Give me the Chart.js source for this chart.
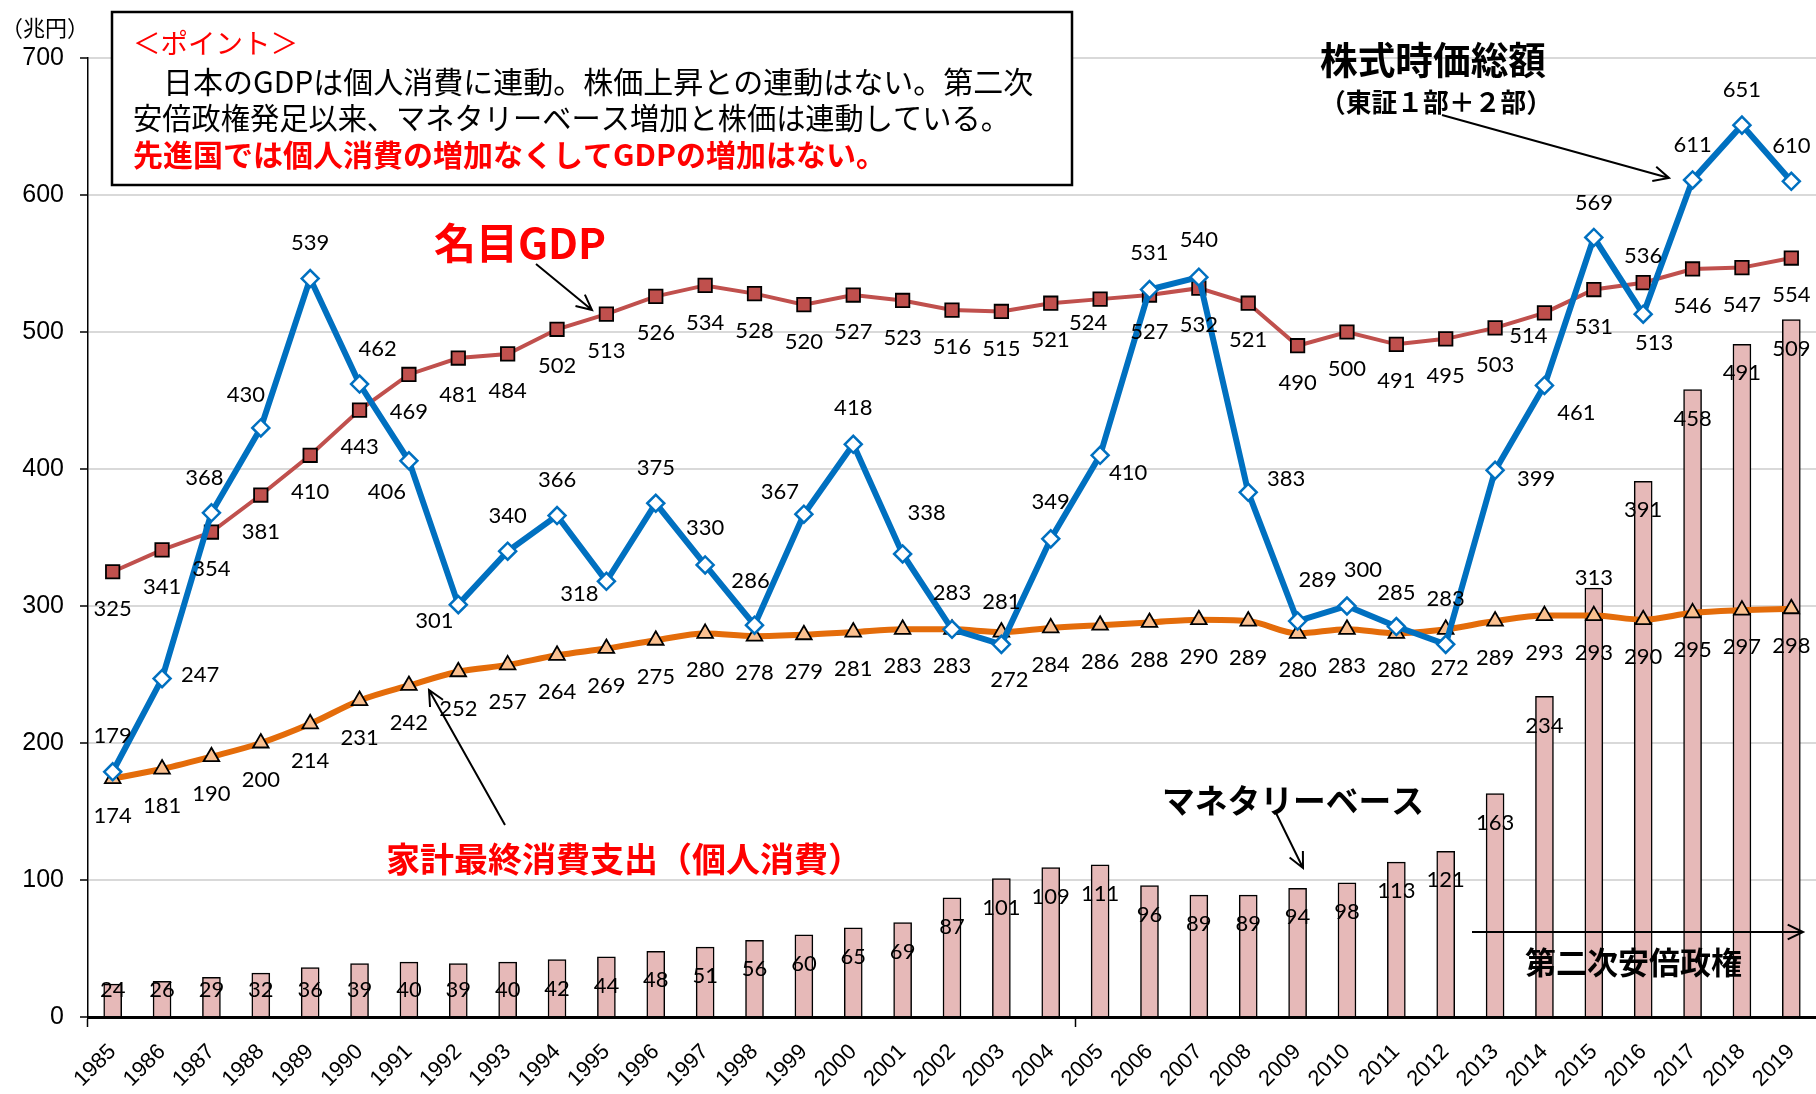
<!DOCTYPE html>
<html lang="ja">
<head>
<meta charset="utf-8">
<title>名目GDP・個人消費・株式時価総額・マネタリーベース</title>
<script src="https://cdn.jsdelivr.net/npm/chart.js@4.4.1/dist/chart.umd.min.js"></script>
<style>
  html, body { margin: 0; padding: 0; background: #fff; overflow: hidden; }
  canvas { display: block; }
</style>
</head>
<body>
<canvas id="chart" width="1816" height="1094"></canvas>
<script>
// データ（兆円）
const years = ['1985','1986','1987','1988','1989','1990','1991','1992','1993','1994',
  '1995','1996','1997','1998','1999','2000','2001','2002','2003','2004',
  '2005','2006','2007','2008','2009','2010','2011','2012','2013','2014',
  '2015','2016','2017','2018','2019'];

const nominalGdp = [325,341,354,381,410,443,469,481,484,502,
  513,526,534,528,520,527,523,516,515,521,
  524,527,532,521,490,500,491,495,503,514,
  531,536,546,547,554];

const householdConsumption = [174,181,190,200,214,231,242,252,257,264,
  269,275,280,278,279,281,283,283,281,284,
  286,288,290,289,280,283,280,283,289,293,
  293,290,295,297,298];

const marketCap = [179,247,368,430,539,462,406,301,340,366,
  318,375,330,286,367,418,338,283,272,349,
  410,531,540,383,289,300,285,272,399,461,
  569,513,611,651,610];

const monetaryBase = [24,26,29,32,36,39,40,39,40,42,
  44,48,51,56,60,65,69,87,101,109,
  111,96,89,89,94,98,113,121,163,234,
  313,391,458,491,509];

const yTicks = [0,100,200,300,400,500,600,700];

// ラベル位置（点からのずれ, px）
const marketCapLabelOffset = [[0,-36],[38,-4],[-7,-35],[-15,-33],[0,-36],[18,-35],[-22,31],[-24,16],[0,-35],[0,-36],
  [-27,13],[0,-35],[0,-37],[-4,-44],[-24,-22],[0,-36],[24,-41],[0,-36],[8,36],[0,-37],
  [28,18],[0,-37],[0,-37],[38,-13],[20,-41],[16,-36],[0,-34],[4,24],[41,9],[32,27],
  [0,-35],[11,29],[0,-35],[0,-35],[0,-35]];
const consumptionLabelAbove = { 18: true, 27: true };
const gdpLabelOffset = { 20: [-12, 24], 29: [-16, 23], 31: [0, -27] };
const barLabelAbove = { 30: true };

const valueLabels = {
  id: 'valueLabels',
  afterDatasetsDraw(chart) {
    const ctx = chart.ctx;
    const base = chart.scales.y.getPixelForValue(0);
    ctx.save();
    ctx.font = '22px Lato';
    ctx.fillStyle = '#000';
    ctx.textAlign = 'center';
    ctx.textBaseline = 'middle';

    chart.getDatasetMeta(0).data.forEach((bar, i) => {
      let y = Math.min(bar.y + 29, base - 27);
      if (barLabelAbove[i]) y = bar.y - 10;
      ctx.fillText(monetaryBase[i], bar.x, y);
    });
    chart.getDatasetMeta(1).data.forEach((pt, i) => {
      const off = gdpLabelOffset[i] || [0, 37];
      ctx.fillText(nominalGdp[i], pt.x + off[0], pt.y + off[1]);
    });
    chart.getDatasetMeta(2).data.forEach((pt, i) => {
      const dy = consumptionLabelAbove[i] ? -30 : 37;
      ctx.fillText(householdConsumption[i], pt.x, pt.y + dy);
    });
    chart.getDatasetMeta(3).data.forEach((pt, i) => {
      const off = marketCapLabelOffset[i];
      ctx.fillText(marketCap[i], pt.x + off[0], pt.y + off[1]);
    });
    ctx.restore();
  }
};

function arrow(ctx, x1, y1, x2, y2) {
  const a = Math.atan2(y2 - y1, x2 - x1);
  const len = 17, spread = 0.45;
  ctx.beginPath();
  ctx.moveTo(x1, y1);
  ctx.lineTo(x2, y2);
  ctx.moveTo(x2 - len * Math.cos(a - spread), y2 - len * Math.sin(a - spread));
  ctx.lineTo(x2, y2);
  ctx.lineTo(x2 - len * Math.cos(a + spread), y2 - len * Math.sin(a + spread));
  ctx.stroke();
}

function text(ctx, str, x, y, font, color, maxW) {
  ctx.font = font;
  ctx.fillStyle = color;
  ctx.fillText(str, x, y, maxW);
}

const notes = {
  id: 'notes',
  afterDraw(chart) {
    const ctx = chart.ctx;
    const jp = '"Noto Sans CJK JP"';
    ctx.save();
    ctx.textBaseline = 'middle';

    ctx.textAlign = 'left';
    text(ctx, '（兆円）', 1, 28, '22px ' + jp, '#000');

    // ポイントの枠
    ctx.fillStyle = '#fff';
    ctx.fillRect(112, 12, 960, 173);
    ctx.strokeStyle = '#000';
    ctx.lineWidth = 2.5;
    ctx.strokeRect(112, 12, 960, 173);

    text(ctx, '＜ポイント＞', 133, 43, '28px ' + jp, '#FF0000', 165);
    text(ctx, '　日本のGDPは個人消費に連動。株価上昇との連動はない。第二次', 133, 82, '30px ' + jp, '#000', 920);
    text(ctx, '安倍政権発足以来、マネタリーベース増加と株価は連動している。', 133, 118, '30px ' + jp, '#000', 877);
    text(ctx, '先進国では個人消費の増加なくしてGDPの増加はない。', 133, 155, 'bold 30px ' + jp, '#FF0000', 755);

    text(ctx, '名目GDP', 434, 243, 'bold 42px ' + jp, '#FF0000', 176);
    text(ctx, '株式時価総額', 1320, 60, 'bold 38px ' + jp, '#000', 226);
    text(ctx, '（東証１部＋２部）', 1320, 102, 'bold 26px ' + jp, '#000', 232);
    text(ctx, '家計最終消費支出（個人消費）', 386, 859, 'bold 34px ' + jp, '#FF0000', 480);
    text(ctx, 'マネタリーベース', 1162, 800, 'bold 33px ' + jp, '#000', 262);
    text(ctx, '第二次安倍政権', 1525, 962, 'bold 31px ' + jp, '#000', 221);

    ctx.strokeStyle = '#000';
    ctx.lineWidth = 2;
    arrow(ctx, 536, 264, 592, 310);
    arrow(ctx, 1442, 115, 1669, 178);
    arrow(ctx, 505, 825, 429, 690);
    arrow(ctx, 1276, 813, 1303, 868);
    arrow(ctx, 1472, 932, 1803, 932);
    ctx.restore();
  }
};

new Chart(document.getElementById('chart'), {
  type: 'bar',
  data: {
    labels: years,
    datasets: [
      {
        label: 'マネタリーベース',
        data: monetaryBase,
        backgroundColor: '#E6B9B8',
        borderColor: '#000',
        borderWidth: 1.5,
        barThickness: 18,
        order: 4
      },
      {
        type: 'line',
        label: '名目GDP',
        data: nominalGdp,
        borderColor: '#C0504D',
        borderWidth: 4,
        pointStyle: 'rect',
        pointRadius: 9.5,
        pointBackgroundColor: '#C0504D',
        pointBorderColor: '#000',
        pointBorderWidth: 1.8,
        tension: 0,
        order: 3
      },
      {
        type: 'line',
        label: '家計最終消費支出',
        data: householdConsumption,
        borderColor: '#E46C0A',
        borderWidth: 6,
        pointStyle: 'triangle',
        pointRadius: 9,
        pointBackgroundColor: '#FAC090',
        pointBorderColor: '#000',
        pointBorderWidth: 1.8,
        cubicInterpolationMode: 'monotone',
        order: 2
      },
      {
        type: 'line',
        label: '株式時価総額',
        data: marketCap,
        borderColor: '#0070C0',
        borderWidth: 6,
        pointStyle: 'rectRot',
        pointRadius: 8.5,
        pointBackgroundColor: '#fff',
        pointBorderColor: '#0070C0',
        pointBorderWidth: 2.5,
        tension: 0,
        order: 1
      }
    ]
  },
  options: {
    responsive: false,
    animation: false,
    devicePixelRatio: 1,
    layout: { autoPadding: false, padding: { top: 58, right: 0, left: 0, bottom: 0 } },
    plugins: { legend: { display: false }, tooltip: { enabled: false } },
    scales: {
      x: {
        offset: true,
        grid: {
          offset: true,
          drawOnChartArea: false,
          tickLength: 10,
          tickWidth: 1.5,
          tickColor: c => (c.index % 20 === 0 ? '#000' : 'rgba(0,0,0,0)')
        },
        border: { color: '#000', width: 3 },
        ticks: {
          autoSkip: false,
          minRotation: 45,
          maxRotation: 45,
          padding: 12,
          color: '#000',
          font: { family: '"Liberation Sans", Arial, sans-serif', size: 22 }
        },
        afterFit: axis => { axis.height = 77; axis.paddingLeft = 0; axis.paddingRight = 0; }
      },
      y: {
        min: 0,
        max: 700,
        afterBuildTicks: axis => { axis.ticks = yTicks.map(v => ({ value: v })); },
        grid: {
          color: c => (c.tick && c.tick.value === 0 ? 'rgba(0,0,0,0)' : '#D9D9D9'),
          lineWidth: 2,
          tickColor: '#000',
          tickLength: 8,
          tickWidth: 1.5
        },
        border: { color: '#000', width: 1.5 },
        ticks: {
          padding: 16,
          color: '#000',
          font: { family: '"Liberation Sans Narrow", "Liberation Sans", sans-serif', size: 25 }
        },
        afterFit: axis => { axis.width = 88; axis.paddingTop = 0; axis.paddingBottom = 0; }
      }
    }
  },
  plugins: [valueLabels, notes]
});
</script>
</body>
</html>
